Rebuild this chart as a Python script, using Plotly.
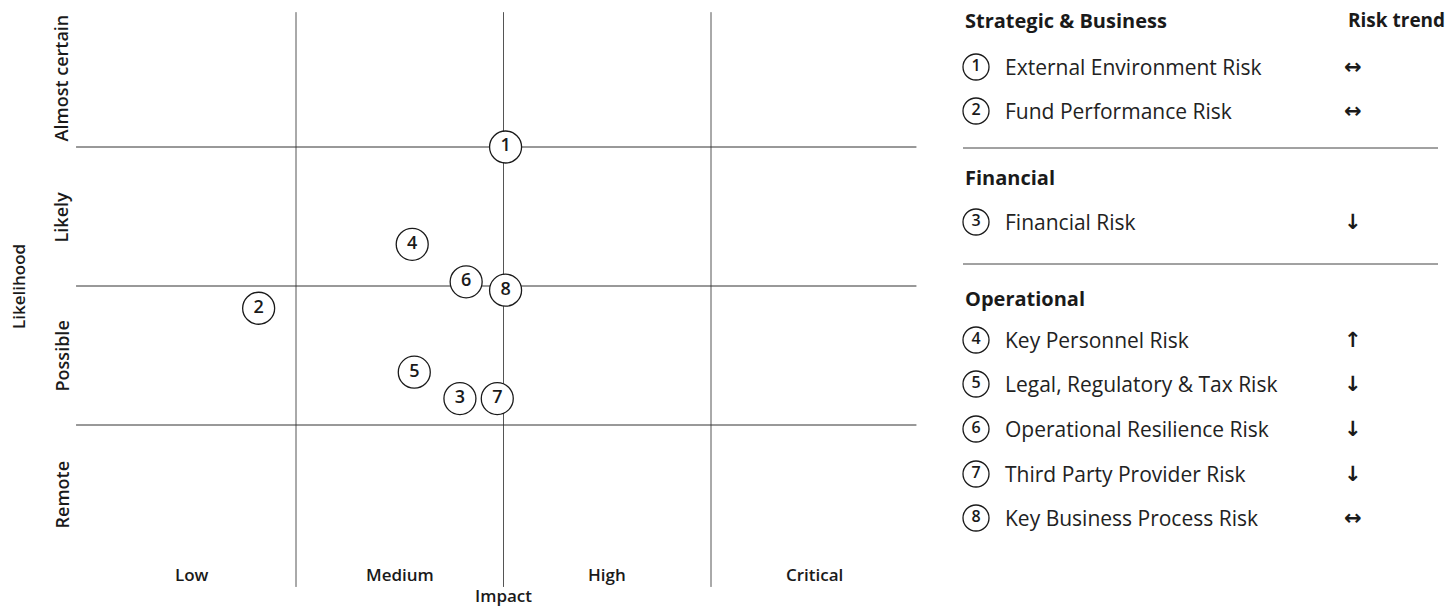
"""
Risk heat map: likelihood vs impact, with a keyed risk list on the right
"""

import plotly.graph_objects as go

# 数据
impact_labels = ['Low', 'Medium', 'High', 'Critical']
likelihood_labels = ['Remote', 'Possible', 'Likely', 'Almost certain']

risk_ids = [1, 2, 3, 4, 5, 6, 7, 8]
risk_names = ['External Environment Risk', 'Fund Performance Risk', 'Financial Risk',
              'Key Personnel Risk', 'Legal, Regulatory & Tax Risk',
              'Operational Resilience Risk', 'Third Party Provider Risk',
              'Key Business Process Risk']
risk_groups = ['Strategic & Business', 'Strategic & Business', 'Financial',
               'Operational', 'Operational', 'Operational', 'Operational', 'Operational']
risk_trend = ['↔', '↔', '↓', '↑', '↓', '↓', '↓', '↔']
impact = [2.01, 0.82, 1.79, 1.56, 1.57, 1.82, 1.97, 2.01]
likelihood = [3.0, 1.84, 1.19, 2.30, 1.38, 2.03, 1.19, 1.97]

# 页面 body 有 8px 边距, 所以图比窗口小 16px
PAD = 8
W, H = 1456 - 2 * PAD, 616 - 2 * PAD
FONT = 'Open Sans'
INK = '#1a1a1a'

fig = go.Figure()

# 主图: 圆圈编号
fig.add_trace(go.Scatter(
    x=impact, y=likelihood, mode='markers+text',
    text=[str(i) for i in risk_ids], textposition='middle center',
    marker=dict(size=32, color='white', line=dict(color=INK, width=1.3)),
    textfont=dict(family=FONT, size=18, color=INK, weight=600),
    hoverinfo='skip', showlegend=False, xaxis='x', yaxis='y'))

# 网格线
for k in range(1, len(impact_labels)):
    fig.add_shape(type='line', xref='x', yref='y', x0=k, x1=k, y0=-0.165, y1=3.97,
                  line=dict(color='#555555', width=1), layer='below')
for k in range(1, len(likelihood_labels)):
    fig.add_shape(type='line', xref='x', yref='y', x0=-0.06, x1=3.99, y0=k, y1=k,
                  line=dict(color='#333333', width=1), layer='below')

# 轴标签
lab_font = dict(family=FONT, size=17, color=INK, weight=600)
row_font = dict(family=FONT, size=18, color=INK, weight=600)
for i, lab in enumerate(impact_labels):
    fig.add_annotation(x=i + 0.5, y=-0.072, xref='x', yref='y', text=lab, showarrow=False,
                       font=lab_font)
for i, lab in enumerate(likelihood_labels):
    fig.add_annotation(x=-0.128, y=i + 0.5, xref='x', yref='y', text=lab, showarrow=False,
                       textangle=-90, font=row_font)
fig.add_annotation(x=2, y=-0.225, xref='x', yref='y', text='Impact', showarrow=False,
                   font=lab_font)
fig.add_annotation(x=-0.34, y=2, xref='x', yref='y', text='Likelihood', showarrow=False,
                   textangle=-90, font=lab_font)

# 右侧图例 (参考图像素坐标)
header_y = {'Strategic & Business': 20, 'Financial': 177, 'Operational': 298}
item_y = [67, 111, 222, 340, 384, 429, 474, 518]
sep_y = [148, 264]

fig.add_trace(go.Scatter(
    x=[976] * len(risk_ids), y=item_y, mode='markers+text',
    text=[str(i) for i in risk_ids], textposition='middle center',
    marker=dict(size=26, color='white', line=dict(color=INK, width=1.3)),
    textfont=dict(family=FONT, size=16, color=INK, weight=600),
    hoverinfo='skip', showlegend=False, xaxis='x2', yaxis='y2'))

for name, y in zip(risk_names, item_y):
    fig.add_annotation(x=1003, y=y, xref='x2', yref='y2', text=name, showarrow=False,
                       xanchor='left', font=dict(family=FONT, size=21, color='#222222'))
for tr, y in zip(risk_trend, item_y):
    fig.add_annotation(x=1353, y=y, xref='x2', yref='y2', text=tr, showarrow=False,
                       font=dict(family='DejaVu Sans', size=21, color=INK, weight='bold'))
for g, y in header_y.items():
    fig.add_annotation(x=963, y=y, xref='x2', yref='y2', text=g, showarrow=False,
                       xanchor='left', font=dict(family=FONT, size=20, color=INK, weight=700))
fig.add_annotation(x=1447, y=20, xref='x2', yref='y2', text='Risk trend', showarrow=False,
                   xanchor='right', font=dict(family=FONT, size=19, color=INK, weight=700))
for y in sep_y:
    fig.add_shape(type='line', xref='x2', yref='y2', x0=963, x1=1438, y0=y, y1=y,
                  line=dict(color='#444444', width=1))

# 像素 -> 坐标映射 (参考图像素)
x0_px, x_unit = 88.5, 207.5
y0_px, y_unit = 564, 139
xr = [-0.35, 4.1]
yr = [-0.3, 3.98]
xdom = [(x0_px + x_unit * v - PAD) / W for v in xr]
ydom = [1 - (y0_px - y_unit * v - PAD) / H for v in yr]
xdom = [min(max(v, 0), 1) for v in xdom]
ydom = [min(max(v, 0), 1) for v in ydom]
leg_left = 960

hidden = dict(visible=False, showgrid=False, zeroline=False, fixedrange=True)
fig.update_layout(
    width=W, height=H, margin=dict(l=0, r=0, t=0, b=0),
    paper_bgcolor='white', plot_bgcolor='rgba(0,0,0,0)',
    xaxis=dict(range=xr, domain=xdom, **hidden),
    yaxis=dict(range=yr, domain=ydom, **hidden),
    xaxis2=dict(range=[leg_left, W + PAD], domain=[(leg_left - PAD) / W, 1], anchor='y2', **hidden),
    yaxis2=dict(range=[H + PAD, PAD], domain=[0, 1], anchor='x2', **hidden),
)

fig.write_html('out.html')
